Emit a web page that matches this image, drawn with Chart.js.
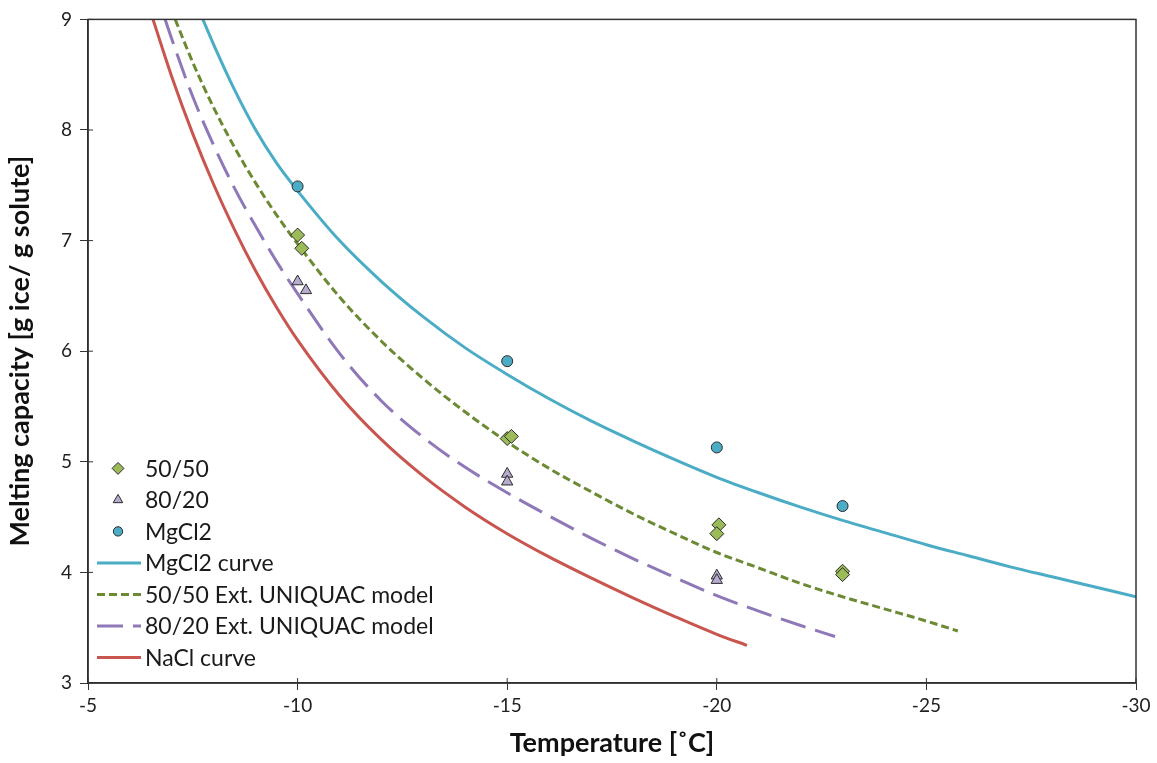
<!DOCTYPE html>
<html lang="en">
<head>
<meta charset="UTF-8">
<title>Melting capacity</title>
<script src="https://cdn.jsdelivr.net/npm/chart.js"></script>
<style>
    body { margin: 0; background: #fff; }
    #wrap { width: 1157px; height: 763px; }
</style>
</head>
<body>
<div id="wrap"><canvas id="meltChart"></canvas></div>
<script>
// measured points
const mix5050T = [-10, -10.1, -15, -15.1, -20.05, -20, -23, -23];
const mix5050Val = [7.05, 6.93, 5.21, 5.23, 4.43, 4.35, 4.01, 3.98];
const mix8020T = [-10, -10.2, -15, -15, -20, -20];
const mix8020Val = [6.63, 6.55, 4.89, 4.82, 3.97, 3.93];
const mgT = [-10, -15, -20, -23];
const mgVal = [7.49, 5.91, 5.13, 4.60];

// curves
const mgCurveT = [-7.74, -8, -8.5, -9, -9.5, -10, -11, -12, -13, -14, -15, -16, -17, -18, -19, -20, -21, -22, -23, -24, -25, -26, -27, -28, -29, -30];
const mgCurveVal = [9.0, 8.77, 8.36, 8.0, 7.7, 7.45, 7.0, 6.63, 6.31, 6.03, 5.79, 5.57, 5.37, 5.19, 5.02, 4.86, 4.72, 4.59, 4.47, 4.36, 4.25, 4.15, 4.05, 3.96, 3.87, 3.78];
const model5050T = [-7.08, -7.5, -8, -8.5, -9, -9.5, -10, -11, -12, -13, -14, -15, -16, -17, -18, -19, -20, -21, -22, -23, -24, -25, -25.75];
const model5050Val = [9.0, 8.61, 8.2, 7.84, 7.52, 7.23, 6.97, 6.49, 6.09, 5.75, 5.45, 5.18, 4.94, 4.73, 4.53, 4.35, 4.18, 4.04, 3.9, 3.78, 3.67, 3.56, 3.47];
const model8020T = [-6.84, -7, -7.5, -8, -8.5, -9, -9.5, -10, -11, -12, -13, -14, -15, -16, -17, -18, -19, -20, -21, -22, -22.82];
const model8020Val = [9.0, 8.82, 8.3, 7.86, 7.47, 7.13, 6.81, 6.52, 5.98, 5.55, 5.22, 4.95, 4.72, 4.51, 4.31, 4.125, 3.955, 3.79, 3.65, 3.52, 3.42];
const naclT = [-6.55, -7, -7.5, -8, -8.5, -9, -9.5, -10, -11, -12, -13, -14, -15, -16, -17, -18, -19, -20, -20.72];
const naclVal = [9.0, 8.48, 7.965, 7.505, 7.095, 6.725, 6.395, 6.1, 5.6, 5.2, 4.87, 4.59, 4.35, 4.14, 3.95, 3.77, 3.6, 3.44, 3.34];

const xTicks = [-5, -10, -15, -20, -25, -30];
const yTicks = [3, 4, 5, 6, 7, 8, 9];

const FONT = 'Lato, "Open Sans", sans-serif';

const toXY = (xs, ys) => xs.map((x, i) => ({ x: x, y: ys[i] }));

function pointSet(label, xs, ys, style, fill, radius, order) {
    return {
        label: label,
        data: toXY(xs, ys),
        showLine: false,
        pointStyle: style,
        pointRadius: radius,
        pointBackgroundColor: fill,
        pointBorderColor: '#2b2b2b',
        pointBorderWidth: 1,
        order: order
    };
}

function curveSet(label, xs, ys, color, dash, order) {
    return {
        label: label,
        data: toXY(xs, ys),
        showLine: true,
        borderColor: color,
        borderWidth: 3,
        borderDash: dash,
        pointRadius: 0,
        cubicInterpolationMode: 'monotone',
        fill: false,
        order: order
    };
}

const datasets = [
    pointSet('50/50', mix5050T, mix5050Val, 'rectRot', '#9bbb59', 7, 1),
    pointSet('80/20', mix8020T, mix8020Val, 'triangle', '#b7aacf', 6.5, 2),
    pointSet('MgCl2', mgT, mgVal, 'circle', '#4bacc6', 5.5, 0),
    curveSet('MgCl2 curve', mgCurveT, mgCurveVal, '#4bacc6', [], 5),
    curveSet('50/50 Ext. UNIQUAC model', model5050T, model5050Val, '#6b8a33', [8, 4], 4),
    curveSet('80/20 Ext. UNIQUAC model', model8020T, model8020Val, '#8f78b8', [26, 10], 6),
    curveSet('NaCl curve', naclT, naclVal, '#c9554f', [], 7)
];

// frame, inner tick halves and the in-plot legend
const framePlugin = {
    id: 'frame',
    afterDraw(chart) {
        const ctx = chart.ctx;
        const a = chart.chartArea;
        const xs = chart.scales.x;
        const ys = chart.scales.y;
        ctx.save();
        ctx.strokeStyle = '#333';
        ctx.lineWidth = 1.5;
        ctx.strokeRect(a.left, a.top, a.right - a.left, a.bottom - a.top);
        ctx.lineWidth = 1;
        ctx.beginPath();
        yTicks.forEach(v => {
            const py = ys.getPixelForValue(v);
            ctx.moveTo(a.left, py);
            ctx.lineTo(a.left + 5, py);
        });
        xTicks.forEach(v => {
            const px = xs.getPixelForValue(v);
            ctx.moveTo(px, a.bottom);
            ctx.lineTo(px, a.bottom - 5);
        });
        ctx.stroke();

        // legend
        const x0 = a.left + 9;
        let y = a.top + 449;
        ctx.font = '23px ' + FONT;
        ctx.textBaseline = 'middle';
        chart.data.datasets.forEach(ds => {
            if (ds.showLine) {
                ctx.save();
                ctx.strokeStyle = ds.borderColor;
                ctx.lineWidth = 3;
                ctx.setLineDash(ds.borderDash);
                ctx.beginPath();
                ctx.moveTo(x0, y);
                ctx.lineTo(x0 + 44, y);
                ctx.stroke();
                ctx.restore();
            } else {
                ctx.save();
                ctx.fillStyle = ds.pointBackgroundColor;
                ctx.strokeStyle = ds.pointBorderColor;
                ctx.lineWidth = 1;
                Chart.helpers.drawPoint(ctx, { pointStyle: ds.pointStyle, radius: ds.pointRadius * 0.85, rotation: 0, borderWidth: 1 }, x0 + 21, y);
                ctx.restore();
            }
            ctx.fillStyle = '#1a1a1a';
            ctx.fillText(ds.label, x0 + 48, y + 1);
            y += 31.5;
        });
        ctx.restore();
    }
};

new Chart(document.getElementById('meltChart'), {
    type: 'scatter',
    data: { datasets: datasets },
    options: {
        responsive: true,
        maintainAspectRatio: false,
        animation: false,
        layout: { padding: { top: 17, right: 21, left: 0, bottom: 0 } },
        plugins: {
            legend: { display: false },
            tooltip: { enabled: false }
        },
        scales: {
            x: {
                type: 'linear',
                reverse: true,
                min: -30,
                max: -5,
                afterBuildTicks: s => { s.ticks = xTicks.map(v => ({ value: v })); },
                afterFit: s => { s.height = 80; },
                grid: { drawOnChartArea: false, drawTicks: true, tickLength: 7, color: '#333' },
                border: { color: '#222', width: 1.5 },
                ticks: { color: '#222', font: { family: FONT, size: 19 }, padding: 4 },
                title: {
                    display: true,
                    text: 'Temperature [˚C]',
                    color: '#111',
                    font: { family: FONT, size: 27, weight: 'bold' },
                    padding: { top: 4 }
                }
            },
            y: {
                type: 'linear',
                min: 3,
                max: 9,
                afterBuildTicks: s => { s.ticks = yTicks.map(v => ({ value: v })); },
                afterFit: s => { s.width = 88; },
                grid: { drawOnChartArea: false, drawTicks: true, tickLength: 8, color: '#333' },
                border: { color: '#222', width: 1.5 },
                ticks: { color: '#222', font: { family: FONT, size: 19 }, padding: 8 },
                title: {
                    display: true,
                    text: 'Melting capacity [g ice/ g solute]',
                    color: '#111',
                    font: { family: FONT, size: 27, weight: 'bold' },
                    padding: { bottom: 2 }
                }
            }
        }
    },
    plugins: [framePlugin]
});
</script>
</body>
</html>
